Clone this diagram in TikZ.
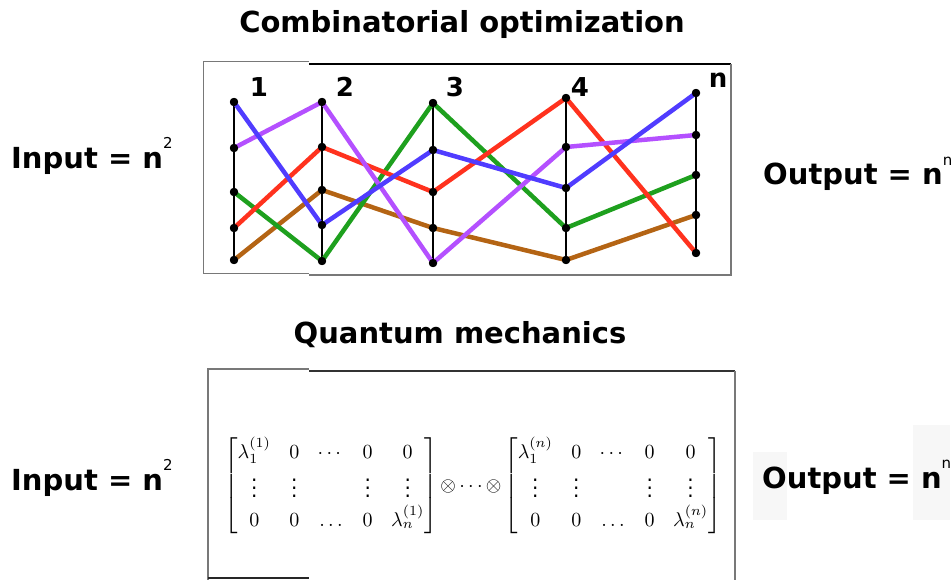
\documentclass[tikz,border=0pt]{standalone}
\usepackage{fontspec}
\usepackage{amsmath}
\usepackage{graphicx}
\setmainfont{DejaVu Sans}
\definecolor{lnblue}{RGB}{80,60,255}
\definecolor{lnpurple}{RGB}{180,80,255}
\definecolor{lnred}{RGB}{255,50,30}
\definecolor{lngreen}{RGB}{30,160,30}
\definecolor{lnbrown}{RGB}{180,100,20}
\definecolor{boxgray}{RGB}{120,120,120}
\newcommand{\supsm}[1]{\raisebox{20pt}{\fontsize{15}{15}\selectfont\mdseries #1}}
\begin{document}
\begin{tikzpicture}[x=1pt,y=-1pt,
  big/.style={font=\bfseries\fontsize{29}{29}\selectfont, inner sep=0pt},
  collbl/.style={font=\bfseries\fontsize{26}{26}\selectfont, inner sep=0pt, anchor=base},
  dot/.style={circle, fill=black, inner sep=0pt, minimum size=8pt},
  pole/.style={line width=2pt, black},
  route/.style={line width=4.5pt, line cap=round, line join=round},
  mat/.style={inner sep=0pt}]
\useasboundingbox (0,0) rectangle (952,580);

% faint background patches
\fill[black!3] (753,452) rectangle (787,520);
\fill[black!3] (913,425) rectangle (950,520);

% titles
\node[big, anchor=base] (t1) at (462,33) {Combinatorial optimization};
\node[big, anchor=base] (t2) at (460,343) {Quantum mechanics};

% input / output labels
\node[big, anchor=base west] (in1) at (11,168) {Input = n\supsm{2}};
\node[big, anchor=base west] (out1) at (763,185) {Output = n\supsm{n}};
\node[big, anchor=base west] (in2) at (11,490) {Input = n\supsm{2}};
\node[big, anchor=base west] (out2) at (762,488) {Output =\hspace{10pt}n\supsm{n}};

% top frame
\draw[boxgray, line width=1pt] (309,62) -- (203,62) -- (203,273) -- (309,273);
\draw[black, line width=1.6pt] (309,64) -- (731,64);
\draw[boxgray, line width=1.2pt] (731,64) -- (731,275) -- (309,275);

% bottom frame
\draw[boxgray, line width=1.6pt] (208,580) -- (208,369) -- (309,369);
\draw[black!80, line width=1.4pt] (309,371) -- (735,371);
\draw[boxgray, line width=1.6pt] (735,371) -- (735,580);
\draw[black!85, line width=1.6pt] (208,578) -- (309,578);

% column dots
\node[dot] (c1r1) at (234,102) {};
\node[dot] (c1r2) at (234,148) {};
\node[dot] (c1r3) at (234,192) {};
\node[dot] (c1r4) at (234,228) {};
\node[dot] (c1r5) at (234,260) {};
\node[dot] (c2r1) at (322,102) {};
\node[dot] (c2r2) at (322,147) {};
\node[dot] (c2r3) at (322,190) {};
\node[dot] (c2r4) at (322,225) {};
\node[dot] (c2r5) at (322,261) {};
\node[dot] (c3r1) at (433,103) {};
\node[dot] (c3r2) at (433,150) {};
\node[dot] (c3r3) at (433,192) {};
\node[dot] (c3r4) at (433,228) {};
\node[dot] (c3r5) at (433,263) {};
\node[dot] (c4r1) at (566,98) {};
\node[dot] (c4r2) at (566,147) {};
\node[dot] (c4r3) at (566,188) {};
\node[dot] (c4r4) at (566,228) {};
\node[dot] (c4r5) at (566,260) {};
\node[dot] (c5r1) at (696,93) {};
\node[dot] (c5r2) at (696,135) {};
\node[dot] (c5r3) at (696,175) {};
\node[dot] (c5r4) at (696,215) {};
\node[dot] (c5r5) at (696,253) {};

% poles
\foreach \c in {1,...,5}{
  \draw[pole] (c\c r1.center) -- (c\c r5.center);
}

% routes
\draw[route, lnbrown] (c1r5.center) -- (c2r3.center) -- (c3r4.center) -- (c4r5.center) -- (c5r4.center);
\draw[route, lngreen] (c1r3.center) -- (c2r5.center) -- (c3r1.center) -- (c4r4.center) -- (c5r3.center);
\draw[route, lnred] (c1r4.center) -- (c2r2.center) -- (c3r3.center) -- (c4r1.center) -- (c5r5.center);
\draw[route, lnpurple] (c1r2.center) -- (c2r1.center) -- (c3r5.center) -- (c4r2.center) -- (c5r2.center);
\draw[route, lnblue] (c1r1.center) -- (c2r4.center) -- (c3r2.center) -- (c4r3.center) -- (c5r1.center);

% redraw dots on top
\foreach \c in {1,...,5}{
  \foreach \r in {1,...,5}{
    \fill (c\c r\r.center) circle (4.2pt);
  }
}

% column labels
\node[collbl] (l1) at (259,97) {1};
\node[collbl] (l2) at (345,97) {2};
\node[collbl] (l3) at (455,97) {3};
\node[collbl] (l4) at (580,97) {4};
\node[collbl] (ln) at (718,88) {n};

% matrices
\node[mat] (matL) at (331,486) {\scalebox{2.0}{$\setlength{\arraycolsep}{4.6pt}\renewcommand{\arraystretch}{1.15}\begin{bmatrix}
\lambda_1^{(1)} & 0 & \cdots & 0 & 0\\
\vdots & \vdots & & \vdots & \vdots\\
0 & 0 & \ldots & 0 & \lambda_n^{(1)}
\end{bmatrix}$}};
\node[mat] (otim) at (471,486) {\scalebox{2.0}{$\otimes\cdots\otimes$}};
\node[mat] (matR) at (613,486) {\scalebox{2.0}{$\setlength{\arraycolsep}{4.6pt}\renewcommand{\arraystretch}{1.15}\begin{bmatrix}
\lambda_1^{(n)} & 0 & \cdots & 0 & 0\\
\vdots & \vdots & & \vdots & \vdots\\
0 & 0 & \ldots & 0 & \lambda_n^{(n)}
\end{bmatrix}$}};
\end{tikzpicture}
\end{document}
